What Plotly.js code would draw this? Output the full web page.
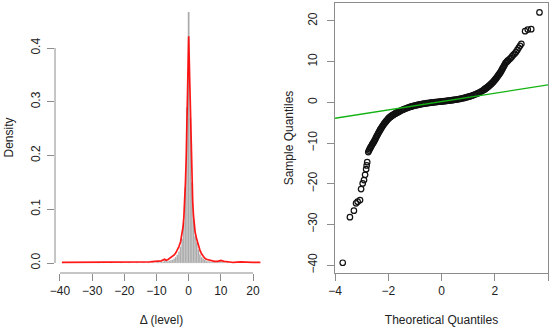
<!DOCTYPE html>
<html>
<head>
<meta charset="utf-8">
<script src="https://cdn.plot.ly/plotly-3.0.1.min.js"></script>
<style>html,body{margin:0;padding:0;background:#fff}#plot{width:550px;height:327px}</style>
</head>
<body>
<div id="plot"></div>
<script>
// ---- Histogram of Δ (level): bin mids (width 0.5) and densities ----
const histMid = [-39, -28, -26.5, -24, -21, -18.5, -16, -14, -12.5, -11,
  -10, -9.5, -9, -8.5, -8, -7.5, -7, -6.5, -6, -5.5, -5, -4.5, -4, -3.5, -3, -2.5, -2, -1.5, -1, -0.5,
  0, 0.5, 1, 1.5, 2, 2.5, 3, 3.5, 4, 4.5, 5, 5.5, 6, 6.5, 7, 7.5, 8, 8.5, 9, 9.5, 10, 10.5, 11, 12, 13.5];
const histDensity = [0.001, 0.001, 0.001, 0.001, 0.001, 0.001, 0.001, 0.001, 0.001, 0.001,
  0.001, 0.002, 0.001, 0.002, 0.002, 0.005, 0.004, 0.003, 0.004, 0.005, 0.006, 0.008, 0.011, 0.015, 0.021, 0.03, 0.045, 0.075, 0.14, 0.29,
  0.467, 0.27, 0.15, 0.08, 0.05, 0.038, 0.025, 0.016, 0.011, 0.008, 0.006, 0.004, 0.003, 0.003, 0.002, 0.002, 0.002, 0.001, 0.002, 0.003, 0.004, 0.002, 0.001, 0.001, 0.001];

// ---- Kernel density curve (red) ----
const kdeX = [-39.4, -36, -33, -30, -28, -27, -25, -22, -20, -18, -16, -14, -12, -10.5, -9.5, -8.5, -7.5, -7, -6.5, -6, -5.5, -5, -4.5, -4, -3.5, -3, -2.5, -2, -1.75, -1.5, -1.25, -1, -0.75, -0.5, -0.25,
  0, 0.25, 0.5, 0.75, 1, 1.25, 1.5, 1.75, 2, 2.5, 3, 3.5, 4, 4.5, 5, 5.5, 6, 7, 8, 9, 10, 11, 12, 14, 16, 18, 20, 22.3];
const kdeY = [0.001, 0.001, 0.001, 0.001, 0.002, 0.001, 0.001, 0.002, 0.001, 0.002, 0.001, 0.002, 0.002, 0.003, 0.003, 0.004, 0.007, 0.005, 0.006, 0.008, 0.01, 0.012, 0.015, 0.019, 0.024, 0.031, 0.04, 0.055, 0.067, 0.085, 0.11, 0.15, 0.2, 0.27, 0.36,
  0.422, 0.36, 0.28, 0.21, 0.155, 0.115, 0.088, 0.07, 0.058, 0.044, 0.033, 0.024, 0.017, 0.012, 0.009, 0.007, 0.006, 0.004, 0.003, 0.003, 0.005, 0.003, 0.002, 0.001, 0.002, 0.001, 0.001, 0.001];

// ---- Normal Q-Q plot: theoretical vs sample quantiles ----
const theoQ = [-3.71, -3.44, -3.29, -3.21, -3.15, -3.06, -3.02, -2.96, -2.91, -2.87, -2.83, -2.81, -2.79,
  -2.75, -2.70, -2.65, -2.60, -2.55, -2.50, -2.45, -2.40, -2.35, -2.30, -2.25, -2.20, -2.15, -2.10, -2.05, -2.00,
  -1.95, -1.90, -1.85, -1.80, -1.75, -1.70, -1.65, -1.60, -1.55, -1.50, -1.45, -1.40, -1.35, -1.30, -1.25, -1.20,
  -1.15, -1.10, -1.05, -1.00, -0.95, -0.90, -0.85, -0.80, -0.75, -0.70, -0.65, -0.60, -0.55, -0.50, -0.45, -0.40,
  -0.35, -0.30, -0.25, -0.20, -0.15, -0.10, -0.05, 0.00, 0.05, 0.10, 0.15, 0.20, 0.25, 0.30, 0.35, 0.40,
  0.45, 0.50, 0.55, 0.60, 0.65, 0.70, 0.75, 0.80, 0.85, 0.90, 0.95, 1.00, 1.05, 1.10, 1.15, 1.20,
  1.25, 1.30, 1.35, 1.40, 1.45, 1.50, 1.55, 1.60, 1.65, 1.70, 1.75, 1.80, 1.85, 1.90, 1.95, 2.00,
  2.05, 2.10, 2.15, 2.20, 2.25, 2.30, 2.35, 2.40, 2.45, 2.50, 2.55, 2.60, 2.65, 2.70, 2.75, 2.80,
  2.85, 2.90, 2.95, 3.00, 3.14, 3.24, 3.37, 3.68,
  -2.725, -2.675, -2.625, -2.575, -2.525, -2.475, -2.425, -2.375, -2.325, -2.275, -2.225, -2.175,
  -2.125, -2.075, -2.025, -1.975, -1.925, -1.875, -1.825, -1.775, -1.725, -1.675, -1.625,
  1.625, 1.675, 1.725, 1.775, 1.825, 1.875, 1.925, 1.975, 2.025, 2.075, 2.125, 2.175,
  2.225, 2.275, 2.325, 2.375, 2.425, 2.475];
const sampleQ = [-39.4, -28.2, -26.6, -24.8, -24.4, -24.0, -21.3, -19.9, -19.1, -17.8, -16.4, -15.5, -14.7,
  -12.2, -11.5, -10.9, -10.3, -9.8, -9.2, -8.5, -7.9, -7.3, -6.7, -6.2, -5.7, -5.2, -4.8, -4.4, -4.0,
  -3.7, -3.45, -3.2, -3.0, -2.8, -2.6, -2.45, -2.3, -2.1, -1.95, -1.8, -1.65, -1.5, -1.4, -1.25, -1.15,
  -1.05, -0.95, -0.85, -0.78, -0.7, -0.62, -0.55, -0.48, -0.42, -0.36, -0.3, -0.25, -0.2, -0.15, -0.1, -0.06,
  -0.02, 0.02, 0.06, 0.1, 0.13, 0.16, 0.2, 0.23, 0.27, 0.3, 0.34, 0.38, 0.42, 0.46, 0.5, 0.55,
  0.6, 0.65, 0.7, 0.76, 0.82, 0.88, 0.95, 1.02, 1.1, 1.18, 1.27, 1.36, 1.46, 1.56, 1.67, 1.79,
  1.92, 2.06, 2.2, 2.36, 2.53, 2.72, 2.92, 3.13, 3.36, 3.6, 3.86, 4.14, 4.44, 4.76, 5.1, 5.5,
  5.9, 6.35, 6.8, 7.25, 7.8, 8.4, 9.0, 9.6, 9.95, 10.3, 10.6, 10.9, 11.3, 11.7, 12.0, 12.4,
  12.9, 13.4, 13.9, 14.4, 17.5, 17.9, 18.0, 22.1,
  -11.85, -11.2, -10.6, -10.05, -9.5, -8.85, -8.2, -7.6, -7.0, -6.45, -5.95, -5.45,
  -5.0, -4.6, -4.2, -3.85, -3.57, -3.32, -3.1, -2.9, -2.7, -2.52, -2.37,
  3.24, 3.48, 3.73, 4.0, 4.29, 4.6, 4.93, 5.3, 5.7, 6.12, 6.57, 7.02,
  7.52, 8.1, 8.7, 9.3, 9.78, 10.12];

// ---- Q-Q reference line (qqline) end points ----
const qqLineX = [-4, 4];
const qqLineY = [-3.9, 4.3];

// ---- Tick values ----
const histTicksX = [-40, -30, -20, -10, 0, 10, 20];
const histTicksY = [0, 0.1, 0.2, 0.3, 0.4];
const qqTicksX = [-4, -2, 0, 2, 4];
const qqTicksY = [-40, -30, -20, -10, 0, 10, 20];

const axisGray = '#8c8c8c';
const font = {family: 'Liberation Sans, Arial, sans-serif', size: 12, color: '#222'};

const traces = [
  {type: 'bar', x: histMid, y: histDensity, width: 0.5, xaxis: 'x', yaxis: 'y',
   marker: {color: '#a3a3a3', line: {color: '#d8d8d8', width: 0.4}}, hoverinfo: 'x+y'},
  {type: 'scatter', mode: 'lines', x: kdeX, y: kdeY, xaxis: 'x', yaxis: 'y',
   line: {color: 'rgba(255,0,0,0.9)', width: 1.7}},
  {type: 'scatter', mode: 'markers', x: theoQ, y: sampleQ, xaxis: 'x2', yaxis: 'y2',
   marker: {symbol: 'circle-open', size: 5.5, color: '#111', line: {width: 1.2, color: '#111'}}},
  {type: 'scatter', mode: 'lines', x: qqLineX, y: qqLineY, xaxis: 'x2', yaxis: 'y2',
   line: {color: '#12b312', width: 1.4}}
];

const yBot = 54 / 327;
const layout = {
  width: 550, height: 327,
  margin: {l: 0, r: 0, t: 0, b: 0},
  paper_bgcolor: '#fff', plot_bgcolor: '#fff',
  showlegend: false,
  font: font,
  bargap: 0,
  xaxis: {domain: [55 / 550, 268 / 550], range: [-41.55, 24.66], anchor: 'y',
    tickvals: histTicksX, ticks: 'outside', ticklen: 7, tickcolor: axisGray, tickwidth: 1,
    showgrid: false, zeroline: false, showline: false, tickfont: font,
    title: {text: 'Δ (level)', font: font, standoff: 21}},
  yaxis: {domain: [yBot, 325 / 327], range: [-0.0186, 0.4856], anchor: 'x',
    tickvals: histTicksY, tickformat: '.1f', tickangle: -90, ticks: 'outside', ticklen: 7,
    tickcolor: axisGray, tickwidth: 1, showgrid: false, zeroline: false, showline: false, tickfont: font,
    ticklabelstandoff: 2,
    title: {text: 'Density', font: font, standoff: 13}},
  xaxis2: {domain: [335 / 550, 548 / 550], range: [-4, 4], anchor: 'y2',
    tickvals: qqTicksX, ticks: 'outside', ticklen: 7, tickcolor: axisGray, tickwidth: 1,
    showgrid: false, zeroline: false, showline: true, mirror: true, linecolor: axisGray, linewidth: 1,
    tickfont: font, title: {text: 'Theoretical Quantiles', font: font, standoff: 21}},
  yaxis2: {domain: [yBot, 324 / 327], range: [-41.92, 24.42], anchor: 'x2',
    tickvals: qqTicksY, tickangle: -90, ticks: 'outside', ticklen: 7, tickcolor: axisGray, tickwidth: 1,
    showgrid: false, zeroline: false, showline: true, mirror: true, linecolor: axisGray, linewidth: 1,
    ticklabelstandoff: 5,
    tickfont: font, title: {text: 'Sample Quantiles', font: font, standoff: 10}},
  shapes: [
    {type: 'line', xref: 'x', yref: 'paper', x0: histTicksX[0], x1: histTicksX[histTicksX.length - 1],
     y0: yBot, y1: yBot, line: {color: axisGray, width: 1}},
    {type: 'line', xref: 'paper', yref: 'y', x0: 55 / 550, x1: 55 / 550,
     y0: histTicksY[0], y1: histTicksY[histTicksY.length - 1], line: {color: axisGray, width: 1}}
  ]
};

Plotly.newPlot('plot', traces, layout, {displayModeBar: false, staticPlot: true});
</script>
</body>
</html>
